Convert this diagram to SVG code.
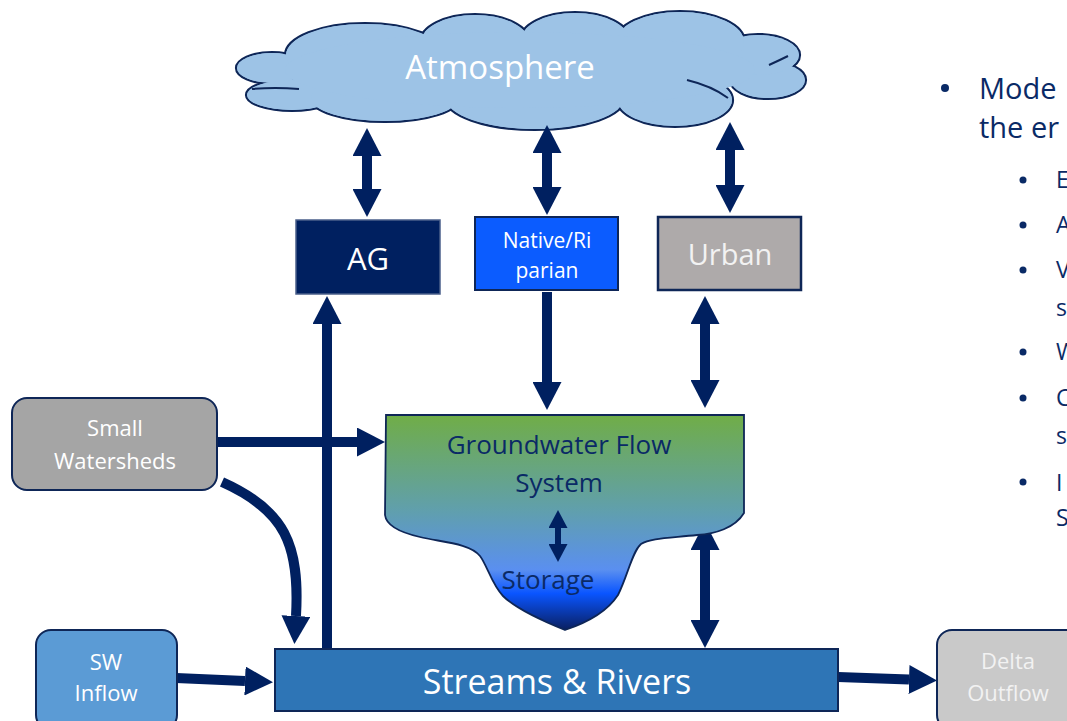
<svg xmlns="http://www.w3.org/2000/svg" width="1067" height="721" viewBox="0 0 1067 721">
<style>
text{font-family:"Open Sans","Noto Sans","Liberation Sans",sans-serif;text-anchor:middle}
.w{fill:#ffffff}
.n{fill:#0a2a66}
.box{stroke:#0e2657;stroke-width:2}
.conn{stroke:#002060;stroke-width:10;fill:none}
.cl{fill:#9dc3e6;stroke:#0e2657;stroke-width:2.2}
.cf{fill:#9dc3e6}
.bl{text-anchor:start;fill:#0a2a66}
</style>
<defs>
<marker id="ah" markerUnits="userSpaceOnUse" markerWidth="28" markerHeight="29" refX="0" refY="14.5" orient="auto-start-reverse" viewBox="0 0 28 29"><path d="M0,0 L28,14.5 L0,29 z" fill="#002060"/></marker>
<marker id="ahs" markerUnits="userSpaceOnUse" markerWidth="18" markerHeight="19" refX="0" refY="9.5" orient="auto-start-reverse" viewBox="0 0 18 19"><path d="M0,0 L18,9.5 L0,19 z" fill="#002060"/></marker>
<linearGradient id="gw" x1="0" y1="0" x2="0" y2="1">
<stop offset="0" stop-color="#70ad47"/>
<stop offset="0.45" stop-color="#609fae"/>
<stop offset="0.72" stop-color="#5a8ff0"/>
<stop offset="0.83" stop-color="#0a55ff"/>
<stop offset="1" stop-color="#0a1f60"/>
</linearGradient>
</defs>

<g id="atmosphere">
<ellipse class="cl" cx="272" cy="68" rx="36" ry="16"/>
<ellipse class="cl" cx="292" cy="95" rx="46" ry="16"/>
<ellipse class="cl" cx="385" cy="98" rx="75" ry="24"/>
<ellipse class="cl" cx="535" cy="98" rx="90" ry="32"/>
<ellipse class="cl" cx="675" cy="100" rx="58" ry="27"/>
<ellipse class="cl" cx="768" cy="80" rx="38" ry="19"/>
<ellipse class="cl" cx="758" cy="55" rx="42" ry="21"/>
<ellipse class="cl" cx="680" cy="42" rx="65" ry="31"/>
<ellipse class="cl" cx="575" cy="40" rx="55" ry="28"/>
<ellipse class="cl" cx="475" cy="42" rx="55" ry="28"/>
<ellipse class="cl" cx="365" cy="55" rx="80" ry="32"/>
<ellipse class="cf" cx="272" cy="68" rx="35" ry="15"/>
<ellipse class="cf" cx="292" cy="95" rx="45" ry="15"/>
<ellipse class="cf" cx="385" cy="98" rx="74" ry="23"/>
<ellipse class="cf" cx="535" cy="98" rx="89" ry="31"/>
<ellipse class="cf" cx="675" cy="100" rx="57" ry="26"/>
<ellipse class="cf" cx="768" cy="80" rx="37" ry="18"/>
<ellipse class="cf" cx="758" cy="55" rx="41" ry="20"/>
<ellipse class="cf" cx="680" cy="42" rx="64" ry="30"/>
<ellipse class="cf" cx="575" cy="40" rx="54" ry="27"/>
<ellipse class="cf" cx="475" cy="42" rx="54" ry="27"/>
<ellipse class="cf" cx="365" cy="55" rx="79" ry="31"/>
<ellipse class="cf" cx="520" cy="70" rx="235" ry="38"/>
<path d="M252,89 Q275,87 299,89 M687,80 Q712,86 728,98 M769,65 Q780,60 788,56" fill="none" stroke="#0e2657" stroke-width="2"/>
<text class="w" x="500" y="79" font-size="33">Atmosphere</text>
</g>

<g id="connectors">
<line class="conn" x1="367" y1="156" x2="367" y2="189" marker-start="url(#ah)" marker-end="url(#ah)"/>
<line class="conn" x1="547" y1="153" x2="547" y2="187" marker-start="url(#ah)" marker-end="url(#ah)"/>
<line class="conn" x1="730" y1="150" x2="730" y2="185" marker-start="url(#ah)" marker-end="url(#ah)"/>
<line class="conn" x1="327" y1="649" x2="327" y2="324" marker-end="url(#ah)"/>
<line class="conn" x1="547" y1="292" x2="547" y2="382" marker-end="url(#ah)"/>
<line class="conn" x1="705" y1="324" x2="705" y2="380" marker-start="url(#ah)" marker-end="url(#ah)"/>
<line class="conn" x1="705" y1="550" x2="705" y2="620" marker-start="url(#ah)" marker-end="url(#ah)"/>
<line class="conn" x1="217" y1="442" x2="357" y2="442" marker-end="url(#ah)"/>
<path class="conn" d="M222,482 C285,510 300,545 296,616" marker-end="url(#ah)"/>
<line class="conn" x1="176" y1="678" x2="245" y2="681" marker-end="url(#ah)"/>
<line class="conn" x1="838" y1="677" x2="909" y2="679.5" marker-end="url(#ah)"/>
</g>

<g id="ag">
<rect x="296" y="220" width="144" height="74" fill="#002060" stroke="#4a5f8a" stroke-width="1.5"/>
<text class="w" x="368" y="270" font-size="31">AG</text>
</g>

<g id="native-riparian">
<rect class="box" x="475" y="217" width="143" height="73" fill="#0b5cff"/>
<text class="w" x="547" y="248" font-size="21">Native/Ri</text>
<text class="w" x="547" y="278" font-size="21">parian</text>
</g>

<g id="urban">
<rect x="658" y="217" width="143" height="73" fill="#aeaaaa" stroke="#0e2657" stroke-width="2.5"/>
<text x="730" y="265" font-size="29" fill="#f2f2f2">Urban</text>
</g>

<g id="groundwater">
<path d="M386,415 L744,415 L744,513 C735,528 715,534 697,535 C670,538 650,538 641,544 C632,552 628,575 618,595 C605,615 580,625 565,630 C545,622 515,608 503,596 C492,585 487,565 480,556 C470,543 440,542 420,537 C398,532 386,524 385,515 Z" fill="url(#gw)" stroke="#0e2657" stroke-width="1.8"/>
<text class="n" x="559" y="454" font-size="26">Groundwater Flow</text>
<text class="n" x="559" y="492" font-size="26">System</text>
<text class="n" x="548" y="589" font-size="26">Storage</text>
<line x1="558" y1="528" x2="558" y2="544" stroke="#002060" stroke-width="6" marker-start="url(#ahs)" marker-end="url(#ahs)"/>
</g>

<g id="small-watersheds">
<rect class="box" x="12" y="398" width="205" height="92" rx="15" fill="#a5a5a5"/>
<text class="w" x="115" y="436" font-size="22">Small</text>
<text class="w" x="115" y="469" font-size="22">Watersheds</text>
</g>

<g id="sw-inflow">
<rect class="box" x="36" y="630" width="141" height="100" rx="15" fill="#5b9bd5"/>
<text class="w" x="106" y="670" font-size="22">SW</text>
<text class="w" x="106" y="701" font-size="22">Inflow</text>
</g>

<g id="streams-rivers">
<rect class="box" x="275" y="649" width="563" height="62" fill="#2e75b6"/>
<text class="w" x="557" y="694" font-size="34">Streams &amp; Rivers</text>
</g>

<g id="delta-outflow">
<rect class="box" x="937" y="630" width="150" height="100" rx="15" fill="#c9c9c9"/>
<text x="1008" y="669" font-size="22" fill="#f2f2f2">Delta</text>
<text x="1008" y="701" font-size="22" fill="#f2f2f2">Outflow</text>
</g>

<g id="bullets">
<circle cx="945" cy="88" r="4" fill="#0a2a66"/>
<text class="bl" x="979" y="99" font-size="29">Mode</text>
<text class="bl" x="979" y="138" font-size="29">the er</text>
<circle cx="1023" cy="180" r="3.5" fill="#0a2a66"/>
<text class="bl" x="1056" y="188" font-size="23">E</text>
<circle cx="1023" cy="225" r="3.5" fill="#0a2a66"/>
<text class="bl" x="1056" y="233" font-size="23">A</text>
<circle cx="1023" cy="270" r="3.5" fill="#0a2a66"/>
<text class="bl" x="1056" y="278" font-size="23">V</text>
<text class="bl" x="1056" y="316" font-size="23">s</text>
<circle cx="1023" cy="352" r="3.5" fill="#0a2a66"/>
<text class="bl" x="1056" y="360" font-size="23">W</text>
<circle cx="1023" cy="398" r="3.5" fill="#0a2a66"/>
<text class="bl" x="1056" y="406" font-size="23">C</text>
<text class="bl" x="1056" y="444" font-size="23">s</text>
<circle cx="1023" cy="482" r="3.5" fill="#0a2a66"/>
<text class="bl" x="1056" y="491" font-size="23">I</text>
<text class="bl" x="1056" y="526" font-size="23">S</text>
</g>
</svg>
